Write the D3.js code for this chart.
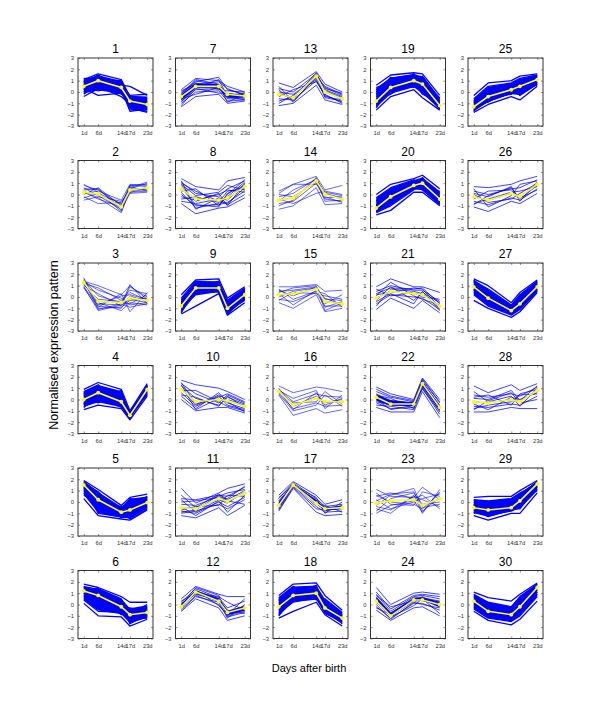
<!DOCTYPE html>
<html><head><meta charset="utf-8">
<script src="https://cdn.jsdelivr.net/npm/d3@7"></script>
<style>body{margin:0;background:#fff}svg{display:block}</style>
</head><body>
<script>
const days = [1, 6, 14, 17, 23];
const dayLabels = ["1d", "6d", "14d", "17d", "23d"];
const yTicks = [-3, -2, -1, 0, 1, 2, 3];
const clusterIds = d3.range(1, 31);
const xTitle = "Days after birth";
const yTitle = "Normalised expression pattern";

// mean profile (yellow) per cluster, index = id-1
const means = [
  [0.5,1.0,0.4,-0.8,-1.1],[0.2,0.05,-1.1,0.4,0.6],[1.3,-0.4,-0.5,-0.1,-0.3],[0.0,0.6,-0.2,-1.4,0.9],[1.5,0.2,-0.9,-0.7,-0.05],
  [1.2,0.8,-0.2,-0.9,-0.7],[-0.4,0.5,0.5,-0.2,-0.35],[0.5,-0.4,-0.5,-0.3,0.7],[-0.8,0.8,0.8,-1.0,0.2],[0.9,-0.2,0.0,-0.1,-0.6],
  [-0.5,-0.6,0.3,0.05,0.8],[-0.2,1.1,0.3,-0.7,-0.3],[-0.2,-0.5,1.4,0.0,-0.6],[-0.5,-0.3,1.2,0.0,-0.4],[0.2,0.3,0.7,-0.4,-0.6],
  [0.7,-0.5,0.1,-0.2,-0.2],[-0.3,1.5,-0.1,-0.6,-0.5],[-0.2,0.8,1.0,-0.3,-1.2],[-0.8,0.4,1.0,0.7,-1.2],[-1.2,-0.2,0.8,1.0,-0.4],
  [-0.1,0.5,0.3,0.2,-0.8],[0.2,-0.4,-0.4,1.4,-0.7],[-0.1,0.1,0.2,-0.3,0.3],[0.3,-1.0,0.4,0.4,0.0],[-1.3,-0.4,0.2,0.5,1.1],
  [-0.2,-0.5,0.1,-0.2,0.9],[0.9,-0.1,-1.2,-0.6,0.9],[-0.2,-0.3,0.0,-0.2,0.8],[-0.5,-0.7,-0.5,0.1,1.6],[0.3,-0.6,-0.9,-0.2,1.5]
];

// member gene profiles (blue) per cluster, index = id-1
const profiles = [
 [[0.5,1.0,0.4,-0.8,-1.1],[1.1,1.6,1.1,-0.4,-0.9],[0.9,1.4,0.8,-1.0,-1.3],[0.2,0.8,0.1,-1.5,-1.7],[-0.4,0.3,0.0,-1.2,-1.4],[0.7,0.6,0.6,0.5,-0.3],[0.3,-0.3,-0.1,-0.6,-1.0],[1.2,1.2,0.9,-0.7,-1.2],[0.0,0.5,-0.4,-1.1,-0.6],[0.8,1.5,0.3,-1.7,-1.5],[-0.2,0.9,0.7,-0.3,-0.2],[0.6,1.1,1.0,-1.4,-1.8],[0.4,0.1,0.5,-0.9,-0.9],[1.0,0.7,-0.2,-0.5,-1.2]],
 [[0.8,0.4,-0.9,0.8,0.9],[0.4,0.5,-1.2,0.5,1.0],[-0.5,-0.2,-0.6,0.2,0.3],[0.3,-0.3,-1.6,0.3,0.6],[0.0,0.6,-1.0,0.8,0.7],[0.6,-0.1,-1.3,0.1,0.2],[-0.2,-0.8,-0.7,0.5,0.4],[0.9,0.2,-1.5,0.6,1.1],[0.1,0.3,-0.5,0.9,0.8],[0.2,-0.4,-1.1,0.2,0.5],[-0.3,0.1,-0.8,0.4,0.6],[0.5,0.5,-1.4,0.7,0.3]],
 [[1.6,-0.6,-0.7,-0.2,-0.5],[1.4,1.0,0.2,1.0,-0.2],[1.2,0.8,-0.3,0.6,0.3],[0.9,-0.8,-1.0,0.1,-0.4],[1.5,-1.1,-0.6,-0.9,-0.6],[1.0,0.3,-0.8,0.9,0.0],[1.3,-0.5,-1.2,-0.5,-0.7],[1.7,-0.9,0.3,-1.3,0.4],[1.1,-0.2,-0.4,0.4,-0.3],[0.8,-1.0,-0.9,-0.3,-0.1],[1.4,0.6,-0.1,-0.7,-0.5],[1.2,-0.7,0.1,0.2,-0.2],[1.5,0.1,-0.5,-0.6,0.2],[0.9,-1.2,-0.7,1.1,-0.6]],
 [[0.0,0.6,-0.2,-1.4,0.9],[0.9,1.5,0.9,-1.0,1.4],[-0.9,-0.5,-0.8,-1.8,0.3],[0.5,1.2,0.3,-1.2,1.2],[-0.5,0.2,-0.5,-1.6,0.6],[0.3,0.9,0.6,-1.3,1.0],[-0.3,0.0,-0.1,-1.5,0.5],[0.7,1.3,-0.6,-1.7,1.3],[-0.7,0.4,0.2,-1.1,0.8],[0.2,-0.3,0.8,-1.4,1.1],[0.6,0.8,-0.4,-1.0,0.7],[-0.4,1.0,0.0,-1.6,1.2],[0.4,0.3,-0.7,-1.2,0.4]],
 [[1.5,0.2,-0.9,-0.7,0.0],[1.9,1.1,-0.3,0.4,0.7],[0.3,-1.2,-1.5,-1.6,-0.7],[1.8,0.8,-0.6,-0.2,0.4],[1.2,-0.5,-1.2,-1.3,-0.4],[1.6,0.5,-0.8,0.2,0.2],[0.6,-0.1,-1.1,-0.9,-0.5],[1.4,-0.8,-0.5,-0.4,0.5],[1.7,0.9,-1.4,-1.1,-0.2],[1.0,-0.3,-0.7,-1.5,-0.6],[1.3,0.4,-1.0,-0.5,0.3],[0.8,0.0,-0.4,-0.8,-0.3],[1.5,-1.0,-1.3,0.3,0.1]],
 [[1.2,0.8,-0.2,-0.9,-0.7],[1.8,1.5,0.7,0.2,0.2],[0.1,-1.0,-1.1,-1.9,-1.3],[1.6,1.3,0.4,-0.5,-0.3],[0.8,0.3,-0.6,-1.5,-1.1],[1.4,1.0,0.1,-1.2,-0.5],[0.5,0.6,-0.9,-0.6,-1.0],[1.0,-0.2,0.3,-1.7,-0.9],[1.5,1.1,-0.4,-0.3,-0.6],[0.7,0.5,-0.1,-1.3,-1.2],[1.3,1.4,0.5,-0.8,0.0],[0.4,-0.6,-0.7,-1.0,-0.4],[1.1,0.9,-0.5,-1.4,-0.8]],
 [[-0.4,0.5,0.5,-0.2,-0.4],[0.2,1.2,1.0,0.5,0.0],[-1.3,-0.4,-0.2,-1.0,-0.8],[0.0,0.9,1.3,0.2,-0.2],[-0.8,0.2,0.3,-0.6,-0.6],[-0.2,1.1,0.7,-0.3,-0.1],[-1.0,0.0,0.1,-0.8,-0.7],[0.1,0.7,0.9,0.3,-0.3],[-0.6,-0.2,0.4,-0.5,-0.5],[-0.1,0.8,0.2,0.1,0.0],[-0.9,0.4,1.1,-0.4,-0.7],[-0.3,1.0,0.6,-0.9,-0.2],[-1.2,0.3,-0.1,-0.1,-0.4]],
 [[0.5,-0.4,-0.5,-0.3,0.7],[1.4,0.7,0.4,1.2,1.5],[-0.8,-1.7,-1.2,-1.1,-0.3],[1.1,0.1,-0.2,0.5,1.2],[0.0,-1.0,-0.9,-0.7,0.3],[0.8,-0.6,0.1,-1.0,1.0],[-0.4,-0.2,-0.7,0.3,0.5],[1.2,-1.3,-0.3,-0.5,0.9],[0.3,0.5,-1.0,0.0,1.3],[-0.6,-0.8,-0.4,-0.9,0.0],[0.9,-0.1,0.2,0.8,0.4],[0.2,-1.2,-0.8,-0.2,1.1],[1.0,0.3,-0.6,-0.8,0.6],[-0.2,-0.5,0.0,0.4,0.2],[0.6,-0.9,-1.1,0.1,0.8]],
 [[-0.8,0.8,0.8,-1.0,0.2],[0.2,1.5,1.6,-0.1,0.9],[-1.5,-0.8,0.3,-1.6,-0.5],[-0.3,1.3,1.3,-0.5,0.7],[-1.2,0.5,0.6,-1.3,-0.2],[-0.5,1.1,1.0,-0.8,0.5],[-1.0,0.2,0.5,-1.4,0.0],[-0.1,1.4,1.2,-0.3,0.8],[-1.3,0.9,0.7,-1.2,-0.3],[-0.6,0.6,1.4,-0.7,0.4],[-0.9,1.2,0.4,-1.1,0.1],[-0.4,0.4,0.9,-0.9,0.6],[-1.4,1.0,1.1,-1.5,-0.1]],
 [[0.9,-0.2,0.0,-0.1,-0.6],[1.7,1.3,1.0,0.7,0.0],[0.0,-1.0,-0.7,-0.7,-1.2],[1.4,0.5,-0.3,0.4,-0.3],[0.6,-0.6,0.3,-0.5,-0.9],[1.2,0.1,-0.5,0.2,-0.4],[0.3,-0.8,0.6,-0.3,-0.8],[1.5,-0.4,0.2,0.5,-0.2],[0.8,0.8,-0.2,-0.6,-1.0],[1.0,-0.5,0.4,0.0,-0.5],[0.4,0.2,-0.6,0.3,-0.7],[1.3,-0.9,0.1,-0.2,-1.1]],
 [[-0.5,-0.6,0.3,0.0,0.8],[1.2,-0.1,0.8,1.2,1.6],[-1.2,-1.4,-0.5,-1.2,-0.3],[0.3,0.2,0.6,0.5,1.3],[-0.8,-1.0,0.0,-0.4,0.4],[-0.2,-0.3,0.5,0.8,1.1],[-1.0,-0.8,-0.2,-0.6,0.2],[0.6,-0.5,0.7,0.2,1.0],[-0.4,-1.2,0.1,-0.9,0.6],[0.0,0.1,0.4,0.3,1.4],[-0.7,-0.4,-0.3,0.6,0.5],[0.2,-0.9,0.2,-0.1,0.9],[-0.9,-0.7,0.6,0.1,-0.2]],
 [[-0.2,1.1,0.3,-0.7,-0.3],[0.5,1.6,0.9,0.7,0.7],[-0.6,0.5,-0.3,-1.4,-1.0],[0.2,1.4,0.6,-0.3,0.3],[-0.4,0.8,0.0,-1.0,-0.6],[0.0,1.2,0.5,-0.5,-0.8],[-0.5,0.7,0.2,-1.2,0.0],[0.3,1.0,0.7,0.2,-0.5],[-0.3,1.3,-0.1,-0.9,0.5],[0.1,0.9,0.4,-0.6,-0.2],[-0.1,1.5,0.8,-1.1,-0.7]],
 [[-0.2,-0.5,1.4,0.0,-0.6],[0.8,0.4,1.8,0.7,0.0],[-1.2,-1.0,0.6,-0.7,-1.1],[0.3,0.0,1.6,0.4,-0.3],[-0.6,-0.7,1.0,-0.3,-0.9],[0.0,-0.2,1.2,0.2,-0.4],[-0.8,-0.4,1.5,-0.5,-0.8],[0.5,-0.8,1.3,0.5,-0.2],[-0.4,0.2,0.9,-0.2,-1.0],[-0.1,-0.6,1.7,0.1,-0.5],[-1.0,-0.3,1.1,-0.4,-0.7],[0.2,-0.9,1.4,0.3,-0.1]],
 [[-0.5,-0.3,1.2,0.0,-0.4],[0.3,0.9,1.6,0.4,0.8],[-1.3,-1.0,0.6,-0.9,-0.8],[-0.2,0.1,1.4,0.2,-0.1],[-0.8,-0.6,1.0,-0.4,-0.6],[0.1,0.9,0.9,0.1,-0.3],[-1.0,-0.5,1.5,-0.2,-0.7],[-0.4,-0.8,0.1,0.3,0.0],[-0.6,0.4,1.3,-0.6,-0.5],[0.0,-0.2,1.1,-0.3,-0.2]],
 [[0.2,0.3,0.7,-0.4,-0.6],[0.9,0.9,1.1,0.5,0.6],[-0.5,-1.0,0.2,-1.3,-1.0],[0.5,0.6,0.9,-0.2,-0.3],[-0.2,-0.4,0.4,-0.8,-0.8],[0.4,0.8,1.0,-1.2,-0.5],[0.7,-0.2,0.5,0.3,-0.9],[0.0,0.5,0.8,-0.6,0.2],[0.3,-0.7,0.6,-0.1,-0.7],[0.6,0.1,0.9,-0.9,-0.4],[-0.3,0.4,0.3,0.1,-0.2]],
 [[0.7,-0.5,0.1,-0.2,-0.2],[1.2,0.6,1.1,1.0,0.7],[0.4,-1.4,-0.8,-1.2,-0.9],[0.9,-0.2,0.5,0.3,0.2],[0.6,-0.8,-0.3,-0.6,-0.5],[0.8,0.1,0.8,-0.8,0.4],[0.5,-1.0,-0.5,0.4,-0.6],[1.0,-0.6,0.3,-0.3,0.0],[0.6,-0.3,-0.2,0.7,-0.4],[0.8,-0.9,0.6,-0.5,0.1]],
 [[-0.3,1.5,-0.1,-0.6,-0.5],[0.6,1.8,0.6,-0.2,0.2],[-0.8,1.2,-0.9,-1.2,-1.1],[0.3,1.7,0.3,-0.4,-0.2],[-0.5,1.4,-0.4,-0.9,-0.8],[0.1,1.6,0.1,-0.5,-0.4],[-0.7,1.3,-0.6,-0.7,-0.6],[0.4,1.5,0.4,-1.0,0.0],[-0.2,1.6,-0.2,-0.3,-0.9],[-0.6,1.4,0.2,-0.8,-0.3]],
 [[-0.2,0.8,1.0,-0.3,-1.2],[0.8,1.8,1.9,0.8,-0.5],[-1.2,-0.6,0.2,-0.9,-1.9],[0.4,1.4,1.5,0.3,-0.8],[-0.7,0.2,0.6,-0.6,-1.5],[0.1,1.1,1.3,0.0,-1.0],[-0.5,0.5,0.8,-0.8,-1.4],[0.6,1.6,0.4,0.5,-0.7],[-0.9,0.9,1.7,-0.4,-1.7],[-0.3,0.3,1.2,-0.1,-1.1],[0.3,1.2,0.9,-0.7,-1.3],[-1.0,0.6,1.4,0.2,-0.9]],
 [[-0.8,0.4,1.0,0.7,-1.2],[0.6,1.5,1.7,1.6,-0.3],[-1.6,-0.4,0.2,-0.5,-1.6],[0.0,1.0,1.4,1.1,-0.8],[-1.2,0.0,0.6,0.3,-1.4],[-0.4,0.8,1.2,1.3,-1.0],[-1.0,0.2,0.8,0.1,-1.5],[0.2,1.2,1.5,0.9,-0.5],[-1.4,0.6,0.5,0.5,-1.1],[-0.6,-0.2,1.1,1.0,-1.3],[-0.2,1.3,0.9,-0.2,-0.9],[-1.1,0.5,1.6,0.8,-1.5],[0.4,0.7,0.4,1.4,-0.6]],
 [[-1.2,-0.2,0.8,1.0,-0.4],[0.0,0.9,1.4,1.7,0.5],[-1.8,-1.4,0.2,0.2,-1.0],[-0.6,0.4,1.1,1.4,0.1],[-1.5,-0.7,0.5,0.6,-0.7],[-0.9,0.2,1.0,1.2,-0.2],[-1.4,-0.5,0.6,0.8,-0.8],[-0.3,0.6,1.3,0.5,0.3],[-1.6,-1.0,0.4,1.5,-0.5],[-1.0,0.0,0.9,0.9,-0.6],[-0.5,-0.3,1.2,1.1,0.0],[-1.3,0.3,0.7,0.4,-0.9]],
 [[-0.1,0.5,0.3,0.2,-0.8],[0.9,1.6,0.9,0.9,0.4],[-1.1,-0.1,-1.0,-0.3,-1.4],[0.5,1.0,0.6,0.6,-0.4],[-0.6,0.2,0.0,-0.1,-1.1],[0.3,0.8,0.7,0.8,-0.6],[-0.4,0.3,-0.6,0.5,-1.2],[0.7,0.1,0.4,0.0,-0.2],[-0.8,0.7,0.5,0.3,-1.0],[0.1,1.3,0.1,-0.2,-0.7],[0.2,0.4,0.8,0.7,-0.9],[-0.3,0.9,-0.3,0.4,-0.5]],
 [[0.2,-0.4,-0.4,1.4,-0.7],[1.1,0.5,0.0,1.9,0.0],[-0.7,-1.1,-1.1,0.7,-1.6],[0.7,0.2,-0.2,1.7,-0.3],[-0.3,-0.8,-0.7,1.1,-1.1],[0.5,-0.2,-0.3,1.5,-0.5],[-0.5,-0.6,-0.9,1.0,-1.3],[0.9,0.3,-0.1,1.8,-0.2],[0.0,-0.9,-0.5,1.2,-0.9],[0.4,0.1,-0.8,1.6,-0.6],[-0.2,-0.5,-0.2,0.9,-1.0]],
 [[1.1,0.5,0.4,1.3,0.2],[-1.0,-0.3,0.1,-0.9,0.9],[0.5,0.8,0.3,0.6,-0.6],[-0.6,-1.0,0.6,-1.0,1.1],[0.8,-0.2,-0.3,0.9,0.5],[-0.3,0.6,1.2,-0.5,-0.2],[0.2,-0.6,0.0,0.3,0.7],[-0.8,0.3,0.8,-0.2,0.0],[0.6,0.0,-0.2,-0.6,0.8],[-0.4,-0.7,0.5,0.2,-0.4],[0.1,0.7,0.9,-0.8,0.4]],
 [[0.3,-1.0,0.4,0.4,0.0],[1.5,0.0,1.0,1.1,0.9],[-0.5,-1.4,-0.3,-0.2,-1.0],[0.9,-0.6,0.7,0.8,0.5],[-0.2,-1.2,0.1,0.1,-0.5],[0.6,-0.8,0.6,0.6,0.3],[0.0,-1.3,0.2,0.0,-0.3],[1.1,-0.4,0.8,0.9,0.7],[0.4,-1.1,-0.1,0.5,-0.8],[-0.3,-0.9,0.5,0.3,0.2],[0.8,-0.2,0.3,0.7,-0.2]],
 [[-1.3,-0.4,0.2,0.5,1.1],[-0.3,0.8,1.0,1.4,1.6],[-1.8,-1.1,-0.4,-0.7,0.5],[-0.8,0.2,0.6,1.0,1.4],[-1.6,-0.8,-0.1,0.1,0.8],[-1.0,0.0,0.4,0.8,1.3],[-1.5,-0.6,0.0,0.3,0.9],[-0.6,0.5,0.8,1.2,1.5],[-1.2,-0.9,0.3,-0.3,0.7],[-1.4,-0.2,0.7,0.6,1.2],[-0.9,-0.5,-0.2,0.9,1.0],[-1.7,0.1,0.5,0.2,0.6]],
 [[-0.2,-0.5,0.1,-0.2,0.9],[0.7,0.6,0.9,1.2,1.6],[-1.1,-1.5,-0.6,-0.8,0.1],[0.3,0.0,0.5,0.6,1.3],[-0.6,-0.9,-0.3,-0.5,0.5],[0.1,-0.2,0.7,-0.6,1.1],[-0.8,-0.4,0.2,0.3,0.7],[0.5,-1.1,-0.1,0.9,1.2],[-0.4,0.3,0.4,-0.3,0.4],[0.0,-0.7,-0.4,0.1,1.0],[-0.9,-0.1,0.6,-0.4,0.8]],
 [[0.9,-0.1,-1.2,-0.6,0.9],[1.6,1.0,-0.5,0.4,1.5],[-0.3,-1.0,-1.8,-1.3,0.4],[1.3,0.5,-0.8,0.0,1.2],[0.4,-0.6,-1.5,-1.0,0.6],[1.1,0.2,-1.0,-0.3,1.1],[0.6,-0.4,-1.4,-0.8,0.7],[1.4,0.7,-0.7,0.2,1.4],[0.2,-0.8,-1.6,-1.1,0.5],[1.0,0.1,-1.1,-0.5,1.0],[0.7,-0.3,-0.9,-0.7,0.8],[1.5,0.4,-1.3,0.1,1.3]],
 [[-0.2,-0.3,0.0,-0.2,0.8],[1.2,0.6,1.3,0.8,1.4],[-1.1,-1.1,-0.7,-0.8,-0.8],[0.4,0.2,0.5,0.3,1.1],[-0.6,-0.7,-0.4,-0.5,0.3],[0.1,0.0,0.8,-0.1,1.2],[-0.8,-0.5,-0.2,0.4,0.5],[0.7,-0.2,0.3,-0.6,1.0],[-0.4,-0.9,0.2,0.0,0.6],[0.2,0.4,-0.5,0.5,0.9],[-0.9,-0.1,0.6,-0.3,0.0]],
 [[-0.5,-0.7,-0.5,0.1,1.6],[0.4,0.5,0.5,1.0,1.9],[-1.2,-1.6,-1.0,-1.0,0.8],[0.0,-0.2,0.0,0.6,1.8],[-0.9,-1.1,-0.8,-0.4,1.3],[-0.3,-0.5,-0.3,0.4,1.7],[-0.7,-1.3,-0.7,-0.2,1.1],[0.2,0.1,0.3,0.8,1.5],[-1.0,-0.4,-0.6,-0.6,1.4],[-0.6,-0.9,0.1,0.3,1.0],[-0.2,-1.0,-0.4,0.7,1.7]],
 [[0.3,-0.6,-0.9,-0.2,1.5],[1.1,0.6,0.3,0.9,1.9],[-0.6,-1.4,-1.8,-1.3,0.3],[0.7,-0.1,-0.4,0.4,1.7],[-0.2,-1.0,-1.3,-0.7,1.1],[0.5,-0.4,-0.7,0.2,1.4],[0.0,-0.8,-1.1,-0.5,0.9],[0.9,0.2,-0.2,0.7,1.8],[-0.4,-1.2,-1.5,-1.0,0.7],[0.4,-0.3,-0.6,-0.4,1.3],[0.2,-0.9,-1.0,0.1,1.6]]
];

// ---- styling (not data) ----
const denseSet = new Set([1,4,5,6,9,18,19,20,25,27,29,30]);
const coreSet = new Set([7,12,17,22,24]);
const mediumSet = new Set([7,8,10,11,12,13,17,21,22,24,26,28]);

const W = 600, H = 717;
const svg = d3.select("body").append("svg").attr("width", W).attr("height", H)
  .style("font-family", "'Liberation Sans', Arial, sans-serif");

const pw = 75, ph = 68, left0 = 78, colStep = 97.5, top0 = 58, rowStep = 102.5;

const x = d3.scaleLinear().domain([-1, 25]).range([0, pw]);
const y = d3.scaleLinear().domain([-3, 3]).range([ph, 0]);
const line = d3.line().x((d, i) => x(days[i])).y(d => y(d));
const area = d3.area().x((d, i) => x(days[i])).y0(d => y(d[0])).y1(d => y(d[1]));
const BLUE = "#0000ff";

clusterIds.forEach(id => {
  const col = Math.floor((id - 1) / 6), row = (id - 1) % 6;
  const g = svg.append("g").attr("transform", `translate(${left0 + col * colStep},${top0 + row * rowStep})`);
  const cid = "clip" + id;
  g.append("clipPath").attr("id", cid).append("rect").attr("width", pw).attr("height", ph);
  const pg = g.append("g").attr("clip-path", `url(#${cid})`);
  const prof = profiles[id - 1];
  const dense = denseSet.has(id), medium = mediumSet.has(id);
  const band = (lo, hi) => days.map((d, i) => {
    const vals = prof.map(p => p[i]).sort(d3.ascending);
    return [d3.quantile(vals, lo), d3.quantile(vals, hi)];
  });
  if (dense) pg.append("path").datum(band(0.1, 0.9)).attr("d", area).attr("fill", BLUE);
  else if (coreSet.has(id)) pg.append("path").datum(band(0.35, 0.65)).attr("d", area).attr("fill", BLUE);
  pg.selectAll("path.gene").data(prof).join("path").attr("class", "gene")
    .attr("d", line).attr("fill", "none").attr("stroke", BLUE)
    .attr("stroke-width", dense ? 1.3 : medium ? 0.75 : 0.6)
    .attr("stroke-linejoin", "round");
  pg.append("path").datum(means[id - 1]).attr("d", line).attr("fill", "none")
    .attr("stroke", "#ffff00").attr("stroke-width", 1.6);
  pg.selectAll("circle").data(means[id - 1]).join("circle")
    .attr("cx", (d, i) => x(days[i])).attr("cy", d => y(d)).attr("r", 1.9).attr("fill", "#ffff00");

  // axes
  const yAx = d3.axisLeft(y).tickValues(yTicks).tickSize(-2).tickPadding(4).tickFormat(d3.format("d"));
  const yAxR = d3.axisRight(y).tickValues(yTicks).tickSize(-2).tickFormat("");
  const xAx = d3.axisBottom(x).tickValues(days).tickSize(-2).tickPadding(5).tickFormat((d, i) => dayLabels[i]);
  const xAxT = d3.axisTop(x).tickValues(days).tickSize(-2).tickFormat("");
  [g.append("g").call(yAx), g.append("g").attr("transform", `translate(${pw},0)`).call(yAxR),
   g.append("g").attr("transform", `translate(0,${ph})`).call(xAx), g.append("g").call(xAxT)].forEach(a => {
    a.select(".domain").remove();
    a.selectAll("line").attr("stroke", "#444").attr("stroke-width", 0.6);
    a.selectAll("text").attr("font-size", 5.8).attr("fill", "#333")
      .attr("font-family", "'Liberation Sans', Arial, sans-serif");
  });
  g.append("rect").attr("width", pw).attr("height", ph).attr("fill", "none")
    .attr("stroke", "#333").attr("stroke-width", 1);
  g.append("text").attr("x", pw / 2).attr("y", -5).attr("text-anchor", "middle")
    .attr("font-size", 12).attr("fill", "#000").text(id);
});

svg.append("text").attr("x", 309).attr("y", 672).attr("text-anchor", "middle")
  .attr("font-size", 11).attr("fill", "#000").text(xTitle);
svg.append("text").attr("transform", "translate(58,345) rotate(-90)").attr("text-anchor", "middle")
  .attr("font-size", 12.5).attr("fill", "#000").text(yTitle);
</script>
</body></html>
